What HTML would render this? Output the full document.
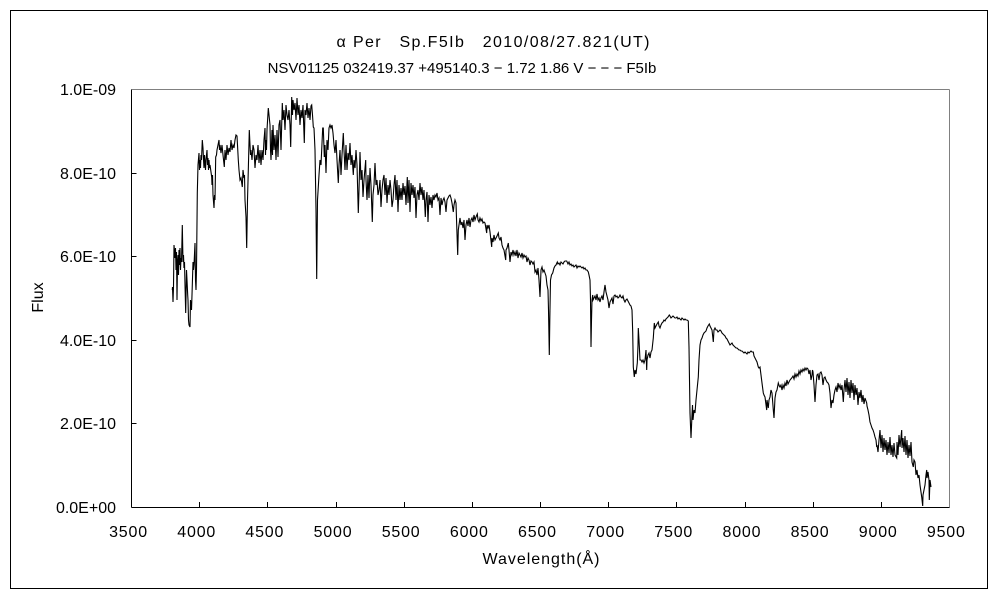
<!DOCTYPE html>
<html>
<head>
<meta charset="utf-8">
<style>
html,body{margin:0;padding:0;background:#fff;}
svg{display:block;}
text{font-family:"Liberation Sans","Noto Sans CJK JP",sans-serif;fill:#000;}
</style>
</head>
<body>
<svg width="1000" height="600" viewBox="0 0 1000 600" xmlns="http://www.w3.org/2000/svg">
<rect x="0" y="0" width="1000" height="600" fill="#fff"/>
<rect x="10.5" y="10.5" width="977" height="578" fill="none" stroke="#000" stroke-width="1" shape-rendering="crispEdges"/>

<text x="493" y="47" font-size="16" text-anchor="middle" textLength="313" xml:space="preserve">α Per   Sp.F5Ib   2010/08/27.821(UT)</text>
<text x="462" y="73" font-size="15" text-anchor="middle" xml:space="preserve">NSV01125 032419.37 +495140.3 − 1.72 1.86 V − − − F5Ib</text>

<!-- plot frame -->
<line x1="131.5" y1="89.5" x2="949.5" y2="89.5" stroke="#808080" stroke-width="1" shape-rendering="crispEdges"/>
<line x1="949.5" y1="89.5" x2="949.5" y2="507.5" stroke="#808080" stroke-width="1" shape-rendering="crispEdges"/>
<line x1="131.5" y1="89.5" x2="131.5" y2="507.5" stroke="#000" stroke-width="1" shape-rendering="crispEdges"/>
<line x1="131.5" y1="507.5" x2="949.5" y2="507.5" stroke="#000" stroke-width="1" shape-rendering="crispEdges"/>

<!-- y ticks -->
<g stroke="#000" stroke-width="1" shape-rendering="crispEdges">
<line x1="131.5" y1="423.5" x2="136.5" y2="423.5"/>
<line x1="131.5" y1="340.5" x2="136.5" y2="340.5"/>
<line x1="131.5" y1="256.5" x2="136.5" y2="256.5"/>
<line x1="131.5" y1="173.5" x2="136.5" y2="173.5"/>
<!-- x ticks -->
<line x1="199.5" y1="507.5" x2="199.5" y2="502"/>
<line x1="267.5" y1="507.5" x2="267.5" y2="502"/>
<line x1="336.5" y1="507.5" x2="336.5" y2="502"/>
<line x1="404.5" y1="507.5" x2="404.5" y2="502"/>
<line x1="472.5" y1="507.5" x2="472.5" y2="502"/>
<line x1="540.5" y1="507.5" x2="540.5" y2="502"/>
<line x1="608.5" y1="507.5" x2="608.5" y2="502"/>
<line x1="676.5" y1="507.5" x2="676.5" y2="502"/>
<line x1="745.5" y1="507.5" x2="745.5" y2="502"/>
<line x1="813.5" y1="507.5" x2="813.5" y2="502"/>
<line x1="881.5" y1="507.5" x2="881.5" y2="502"/>
</g>

<!-- y labels -->
<g font-size="16" text-anchor="end">
<text x="116" y="513">0.0E+00</text>
<text x="116" y="429">2.0E-10</text>
<text x="116" y="346">4.0E-10</text>
<text x="116" y="262">6.0E-10</text>
<text x="116" y="179">8.0E-10</text>
<text x="116" y="95">1.0E-09</text>
</g>
<!-- x labels -->
<g font-size="16" text-anchor="middle" letter-spacing="0.8">
<text x="128.5" y="537">3500</text>
<text x="196.7" y="537">4000</text>
<text x="264.8" y="537">4500</text>
<text x="333" y="537">5000</text>
<text x="401.1" y="537">5500</text>
<text x="469.3" y="537">6000</text>
<text x="537.4" y="537">6500</text>
<text x="605.6" y="537">7000</text>
<text x="673.7" y="537">7500</text>
<text x="741.9" y="537">8000</text>
<text x="810" y="537">8500</text>
<text x="878.2" y="537">9000</text>
<text x="946.3" y="537">9500</text>
</g>

<text x="541" y="564" font-size="16" text-anchor="middle" textLength="117">Wavelength(Å)</text>
<text transform="translate(43,297.5) rotate(-90)" font-size="16" text-anchor="middle">Flux</text>

<polyline fill="none" stroke="#000" stroke-width="1.1" stroke-linejoin="miter" points="
172.3,290 172.5,287 173,302 173.5,287 174,245 175,258 175.5,248 176,270 176.5,252 177,300 177.5,262 178,255 178.5,275 179,250 179.5,265 180,248 180.5,270 181,258 181.5,262 182.3,225 183,262 183.5,255 184,268 184.5,262 185,285 185.7,313 186.5,270 187,280 187.7,295 188,300 188.5,320 189,325 190,327 190.5,300 191.5,310 192,295 193,262 193.5,270 194,265 195,243 195.5,280 196,290 196.5,270 197.3,193 198,165 199,153 199.5,170 200,160 200.5,168 201,155 201.5,160 202.3,140 203,148 203.5,160 204,168 204.5,155 205,163 205.5,170 206,160 206.5,155 207,150 207.5,165 208,158 208.5,170 209,160 209.5,168 210,165 211,172 211.7,177 212,185 212.5,175 213,195 214,208 214.5,195 215,200 215.7,157 216.5,155 217,150 218,145 219,140 219.5,150 220,145 221,153 222,145 223,155 224.3,167 225,150 226,160 226.5,153 227,145 228,155 229,148 230,152 231,140 232,150 233,145 234,148 235,140 236,135 237,136 237.5,145 238.3,160 239,170 240,180 241,178 242.3,187 243,170 244,178 244.5,175 245,200 246,217 246.5,240 246.7,248 247,230 247.5,200 248.3,170 249.3,130 250,145 250.5,155 251,150 252,160 253,145 254,150 255,168 256,155 257,160 258,145 259,163 260,150 261,165 262,150 263,160 264,140 265,128 265.5,155 266,140 266.5,150 267,130 268.3,108 269,115 270,125 270.5,150 271,160 272,130 272.5,155 273,125 274,150 275,135 276,160 277,130 278,157 279,125 280,120 281,150 282.3,103 283,120 284,110 285,130 286,105 287,115 288,120 289,110 290,125 290.7,147 291.7,97 292.5,115 293,100 294,110 295,103 296,120 297,98 298,115 299,105 300,125 301,110 302,118 303,105 304.3,143 305,110 306,115 307,103 308,118 309,108 310,120 311,106 311.7,105 312.5,115 313.3,127 314,128 315,150 316,210 316.5,260 316.7,279 317,250 317.5,200 318.3,187 319,175 320,160 321,165 322.7,128 323.3,128 324.3,157 325,145 326,173 327,140 328,150 329,128 330,125 331,128 332,125 333,133 334,145 335,153 336,140 337,160 338.3,183 339,165 340,150 341,175 342,155 343.3,133 344,150 345,170 346,145 347,170 348,153 349,160 350,143 351,165 352,155 353.3,175 354,160 355,168 356,150 357,165 358.3,213 359,190 360,152 361,180 362,170 363,197 364,180 365.7,160 366,180 367,200 368,175 369,198 370,168 371,185 372.3,222 373,195 374,185 375,163 376,185 377,180 378,195 379,190 380,180 381,207 382,190 383,180 384,175 385,195 386,178 387,203 388,185 389,195 390,180 391,190 392,207 393,200 394,185 395,175 396,200 397,180 398,212 399,185 400,200 401,188 402,200 403,183 404,195 405,186 406,205 407.3,177 408,203 409,180 410,212 411,183 412,195 413,185 414,198 415,187 416,218 417,195 418,190 419,200 420,183 421,195 422,187 423,200 424,190 425.3,217 426,200 427,192 428,222 429,195 430,205 431,197 432,208 433,195 434,200 435,195 436,197 437,193 438,200 439,198 440,215 441,198 442,205 443,200 444,198 445,202 446,212 447,200 448,198 449,196 450,195 451,198 452,203 453.3,212 454,205 455,200 456,203 456.7,225 457.7,255 458.3,230 459,225 460,218 461,225 462,222 463,228 464,220 465,240 466,225 467,220 468,226 469,218 470,227 471,220 472,218 473,222 474,215 475,220 476,217 477.3,214 478,220 479,222 480,218 481,221 482,219 483,223 484,222 485,223 486.7,233 487,225 488,228 489,225 490,232 491.7,247 492,238 493,242 494,235 495,240 496,238 497,236 498.3,233 499,238 500,240 501,237 502,245 503,248 504,250 505.7,260 506,250 507,248 508.3,243 509,250 510,262 511,252 512,255 513,250 514,255 515,252 516,256 517,250 518,258 519,253 520,255 521,257 522,253 523,258 524,255 525,257 526,256 527,262 528,258 529,260 530,265 531,261 532,262 533,264 534,262 535,272 536,270 537,275 538,268 539,280 540,297 541,270 542,267 543,272 544,270 545,273 546,276 547,285 548,290 548.5,310 549.3,355 549.8,320 550.5,280 551.5,275 552.7,273 554,268 555,266 556,265 557.3,262 558,264 559,263 560,265 561,262 562,263 563,264 564,262 565,261 566.7,261 568,264 569,262 570,265 571,264 572,266 573,265 574,267 575,266 576,265 577,268 578,266 579,267 580,266 581,267 582,268 583,267 584,269 585,268 586,270 587,270 588.3,272 589,275 590,280 590.5,300 591,347 591.5,320 592,300 592.7,295 593,300 594,298 595,296 596,300 597,294 598,300 599,298 600,302 601,298 602,296 603,300 604,292 605,285 606,292 607,296 608,300 609,308 610,302 611,300 612,298 613,304 614,296 615,295 616,297 617,296 618,298 619,297 620,295 621,297 622,298 623,296 624,300 625,302 626,300 627,299 628,301 629,303 630,305 631,306 632,310 632.7,332 633.3,367 634.3,377 635,370 636,374 637.3,363 638,345 638.3,328 639,340 640,360 641,360 642,362 643,360 644,363 645,360 646,350 646.7,370 647,360 648,355 649,353 650,358 651,352 652,350 653.3,338 654.3,323 655,328 656,326 657,324 658.3,322 659,326 660,328 661,325 662,323 663,322 664,320 665,321 666,319 667,318 668,317 669.3,315 670,316 671,318 672,317 673,316 674,317 675,318 676,318 677,317 678,319 679,318 680,319 681,320 682,318 683,319 684,320 685,319 686,320 687,320 688.3,321 689,347 689.5,380 690,413 691,438 692,415 692.5,405 693,420 694,410 695,413 696,400 697,390 698.3,377 699,360 700,345 701,340 702,338 703,335 704,333 705,332 706,331 707,328 708,326 709.3,324 710,326 711,328 712,330 713.3,342 714,330 715,328 716,330 717,330 718,332 719,331 720,330 721,331 722,333 723,334 724,335 725,336 726,338 727,339 728,341 729,343 730,345 731,344 732,343 733,345 734,346 735,347 736,348 737,348 738,349 739,350 740,350 741,351 742,351 743,352 744,353 745,352 746,353 747,354 748,352 749,353 750,352 751,351 752,352 753.3,352 754,356 755,358 756,360 757,362 758.3,367 759,368 760,367 761,375 762,383 763.3,393 764,395 765,397 766.7,410 767,400 768.3,408 769,400 770,397 771,390 772,393 773.3,410 774,418 775,398 776,392 777,390 778.3,383 779.3,386 780,387 781,385 782,390 783,385 784,388 785,383 786,386 787,380 788,384 789,382 790,380 791.7,378 793,376 794,379 795,374 796,377 797,374 798,376 799,371 800,374 801,370 802,372 803,369 804,371 805,368 806,370 807,368 808,369 809,374 810,370 811,380 812,375 812.5,370 813,372 814,385 815,402 816,385 817,375 818,374 819,380 820,373 821,372 822,375 823,385 824,378 825,377 826,380 827,382 828,383 829,385 830,393 831,408 832,400 833,403 834,395 835,390 836,387 837,392 838,383 839,388 840,385 841,390 842,385 843.3,402 844,390 845,380 846,392 847,378 848,395 849,382 850,398 851,380 852,393 853,383 854,400 855,385 856,395 857,388 858,405 859,392 860,398 861,390 862,402 863,395 864,404 865,398 866.7,403 867,406 868,410 869,415 870,422 871,425 872,428 873,430 874,433 875,437 876,440 876.7,447 877,445 878,452 879,440 880,430 881,448 882,435 883,452 884,438 885,450 886,440 887,455 888,442 889,453 890,437 891,455 892,445 893,457 894,443 895,455 896.7,458 897,442 898,455 899,435 900,447 901.7,430 902,448 903,438 904,452 905,436 906,455 907,440 908,458 909,445 910,456 911,442 912,462 913.3,467 914,460 915,462 916,475 917,470 918,478 919,475 920,485 920.7,490 921.7,497 922.7,506 923,495 924,490 925,485 926,475 926.7,470 927,478 928,472 929,480 929.3,500 930,480 931,487"/>
</svg>
</body>
</html>
